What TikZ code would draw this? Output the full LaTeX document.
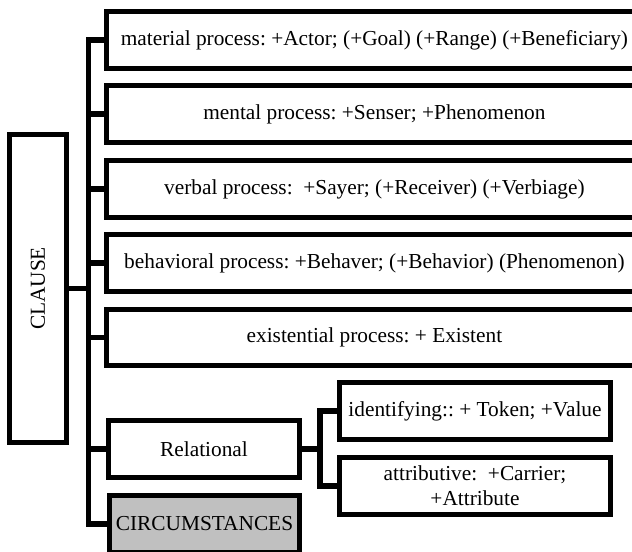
\documentclass[tikz,border=0pt]{standalone}
\usepackage{fontspec}
\setmainfont{Liberation Serif}
\frenchspacing
\definecolor{circgray}{HTML}{C0C0C0}

\begin{document}
\begin{tikzpicture}[x=0.75pt,y=-0.75pt,
    box/.style={draw,line width=4pt,minimum height=42.4pt,inner sep=0pt,align=center,font=\fontsize{16}{19}\selectfont},
    link/.style={line width=4pt}]
        \useasboundingbox (0,0) rectangle (632,552);
        \clip (0,0) rectangle (632,552);

        \coordinate (trunk) at (88.5,0);
        \coordinate (fork) at (320,0);

        \node[box,rotate=90,minimum width=230.6pt] (clause) at (38,288.5) {CLAUSE};

        \foreach \name/\y/\txt in {material/40/{material process: +Actor; (+Goal) (+Range) (+Beneficiary)},
                                   mental/114/{mental process: +Senser; +Phenomenon},
                                   verbal/189/{verbal process:\ \ +Sayer; (+Receiver) (+Verbiage)},
                                   behavioral/263/{behavioral process: +Behaver; (+Behavior) (Phenomenon)},
                                   existential/337.5/{existential process: + Existent}} {
          \node[box,minimum width=402.2pt] (\name) at (374.4,\y) {\txt};
          \draw[link] (\name.west) -- (\name.west -| trunk);
        }

        \node[box,minimum width=142.9pt] (rel) at (204,449) {Relational};
        \node[box,minimum width=142.9pt,fill=circgray] (circ) at (204.5,524) {CIRCUMSTANCES};
        \node[box,minimum width=202.9pt] (ident) at (475,411) {identifying:: + Token; +Value};
        \node[box,minimum width=202.9pt] (attr) at (475,486) {attributive:\ \ +Carrier;\\+Attribute};

        \draw[link] (material.west) -- (material.west -| trunk) -- (circ.west -| trunk) -- (circ.west);
        \draw[link] (clause.south) -- (clause.south -| trunk);
        \draw[link] (rel.west) -- (rel.west -| trunk);
        \draw[link] (rel.east) -- (rel.east -| fork);
        \draw[link] (ident.west) -- (ident.west -| fork) -- (attr.west -| fork) -- (attr.west);
      \end{tikzpicture}
\end{document}
